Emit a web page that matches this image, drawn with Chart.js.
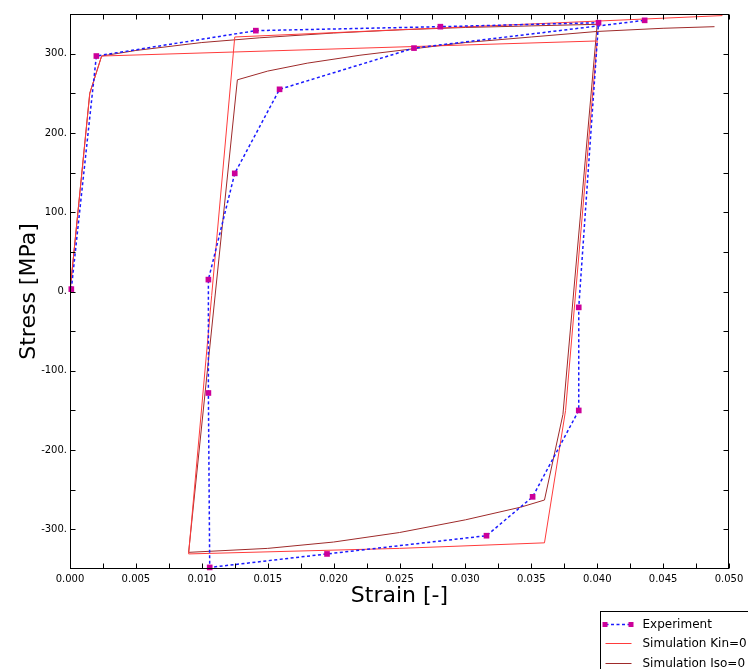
<!DOCTYPE html>
<html>
<head>
<meta charset="utf-8">
<script src="https://cdn.jsdelivr.net/npm/chart.js@4.4.0/dist/chart.umd.min.js"></script>
<style>
  html, body { margin: 0; padding: 0; background: #fff; }
</style>
</head>
<body>
<canvas id="loopChart" width="748" height="669"></canvas>
<script>
// experiment (measured points)
const expStrain = [0.0001, 0.0020, 0.0141, 0.0281, 0.0401, 0.0386, 0.0386, 0.0351, 0.0316, 0.0195, 0.0106, 0.0105, 0.0105, 0.0125, 0.0159, 0.0261, 0.0436];
const expStress = [3, 297, 329, 334, 339, -20, -150, -259, -308, -331, -348, -128, 15, 149, 255, 307, 342];

// simulation, kinematic hardening off
const kinStrain = [0, 0.0015, 0.0024, 0.0400, 0.0376, 0.0360, 0.0250, 0.0090, 0.0125, 0.0495];
const kinStress = [0, 250, 297, 316, -150, -317, -324, -331, 321, 348];

// simulation, isotropic hardening off
const isoStrain = [0, 0.0015, 0.0024, 0.0050, 0.0100, 0.0144, 0.0200, 0.0250, 0.0300, 0.0350, 0.0400,
  0.0374, 0.0360, 0.0342, 0.0300, 0.0250, 0.0200, 0.0150, 0.0090,
  0.0127, 0.0150, 0.0180, 0.0220, 0.0260, 0.0300, 0.0350, 0.0400, 0.0450, 0.0489];
const isoStress = [0, 250, 297, 304, 314, 320, 326, 330, 333, 335, 337,
  -155, -263, -272, -288, -304, -316, -324, -329,
  267, 278, 288, 298, 306, 314, 321, 328, 332, 334];

const xTicks = [0, 0.005, 0.010, 0.015, 0.020, 0.025, 0.030, 0.035, 0.040, 0.045, 0.050];
const yTicks = [-300, -200, -100, 0, 100, 200, 300];

const FONT = 'DejaVu Sans';

function toPoints(xs, ys) {
  return xs.map((x, i) => ({ x: x, y: ys[i] }));
}

// frame round the plot + inward ticks on all four sides
const frame = {
  id: 'frame',
  afterDatasetsDraw(chart) {
    const { ctx, chartArea: a, scales: { x, y } } = chart;
    const L = Math.round(a.left) + 0.5, R = Math.round(a.right) - 0.5;
    const T = Math.round(a.top) + 0.5, B = Math.round(a.bottom) - 0.5;
    ctx.save();
    ctx.strokeStyle = '#000';
    ctx.lineWidth = 1;
    ctx.beginPath();
    for (let i = 0; i <= 20; i++) {
      const px = Math.round(x.getPixelForValue(i * 0.0025)) + 0.5;
      ctx.moveTo(px, T); ctx.lineTo(px, T + 5);
      ctx.moveTo(px, B); ctx.lineTo(px, B - 5);
    }
    for (let v = -300; v <= 300; v += 50) {
      const py = Math.round(y.getPixelForValue(v)) + 0.5;
      ctx.moveTo(L, py); ctx.lineTo(L + 5, py);
      ctx.moveTo(R, py); ctx.lineTo(R - 5, py);
    }
    ctx.stroke();
    ctx.strokeRect(L, T, R - L, B - T);
    ctx.restore();
  }
};

// boxed legend in the lower right corner, partly off the canvas
const boxLegend = {
  id: 'boxLegend',
  afterDraw(chart) {
    const ctx = chart.ctx;
    const left = 600.5, top = 611.5;
    ctx.save();
    ctx.fillStyle = '#fff';
    ctx.fillRect(left, top, 170, 70);
    ctx.strokeStyle = '#000';
    ctx.lineWidth = 1;
    ctx.strokeRect(left, top, 170, 70);
    ctx.font = '12px "' + FONT + '"';
    ctx.textBaseline = 'middle';
    chart.data.datasets.forEach((ds, i) => {
      const yy = Math.round(top + 12.5 + i * 19.4);
      ctx.save();
      ctx.strokeStyle = ds.borderColor;
      ctx.lineWidth = ds.borderWidth;
      ctx.setLineDash(ds.borderDash || []);
      ctx.beginPath();
      ctx.moveTo(left + 5, yy + 0.5);
      ctx.lineTo(left + 31, yy + 0.5);
      ctx.stroke();
      ctx.restore();
      if (ds.pointRadius) {
        ctx.fillStyle = ds.pointBackgroundColor;
        ctx.fillRect(left + 2, yy - 2, 5, 5);
        ctx.fillRect(left + 28, yy - 2, 5, 5);
      }
      ctx.fillStyle = '#000';
      ctx.fillText(ds.label, left + 42, yy + 1);
    });
    ctx.restore();
  }
};

new Chart(document.getElementById('loopChart'), {
  type: 'scatter',
  data: {
    datasets: [{
      label: 'Experiment',
      data: toPoints(expStrain, expStress),
      showLine: true,
      borderColor: '#1a1aff',
      borderWidth: 1.5,
      borderDash: [3, 2.5],
      pointStyle: 'rect',
      pointRadius: 4,
      pointBackgroundColor: '#cc0099',
      pointBorderColor: '#cc0099',
      pointBorderWidth: 0,
      clip: false
    }, {
      label: 'Simulation Kin=0',
      data: toPoints(kinStrain, kinStress),
      showLine: true,
      borderColor: '#ff3b3b',
      borderWidth: 1,
      pointRadius: 0,
      clip: false
    }, {
      label: 'Simulation Iso=0',
      data: toPoints(isoStrain, isoStress),
      showLine: true,
      borderColor: '#9e2a2a',
      borderWidth: 1,
      pointRadius: 0,
      clip: false
    }]
  },
  options: {
    responsive: false,
    animation: false,
    layout: { padding: { top: 14, right: 19, bottom: 0, left: 0 } },
    plugins: {
      legend: { display: false },
      tooltip: { enabled: false }
    },
    scales: {
      x: {
        type: 'linear',
        min: 0,
        max: 0.05,
        afterBuildTicks: s => { s.ticks = xTicks.map(v => ({ value: v })); },
        afterFit: s => { s.height = 100; },
        grid: { display: false, drawTicks: false },
        border: { display: false },
        ticks: {
          callback: v => v.toFixed(3),
          color: '#000',
          font: { family: FONT, size: 10 },
          padding: 4,
          maxRotation: 0,
          autoSkip: false
        },
        title: {
          display: true,
          text: 'Strain [-]',
          color: '#000',
          font: { family: FONT, size: 22 },
          padding: { top: 0, bottom: 60 }
        }
      },
      y: {
        type: 'linear',
        min: -350,
        max: 350,
        afterBuildTicks: s => { s.ticks = yTicks.map(v => ({ value: v })); },
        afterFit: s => { s.width = 70; },
        grid: { display: false, drawTicks: false },
        border: { display: false },
        ticks: {
          callback: v => v + '.',
          color: '#000',
          font: { family: FONT, size: 10 },
          padding: 3
        },
        title: {
          display: true,
          text: 'Stress [MPa]',
          color: '#000',
          font: { family: FONT, size: 22 },
          padding: { top: 16, bottom: 0 }
        }
      }
    }
  },
  plugins: [frame, boxLegend]
});
</script>
</body>
</html>
